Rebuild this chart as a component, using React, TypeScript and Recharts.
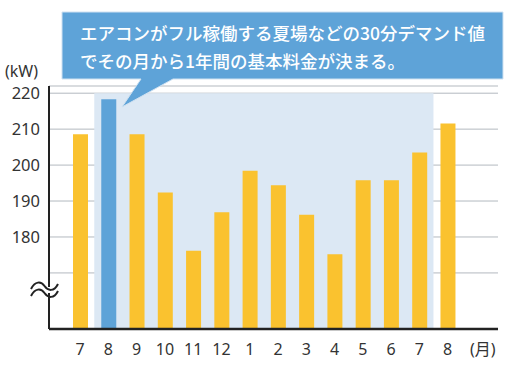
import { Bar, BarChart, Cell, CartesianGrid, ReferenceArea, XAxis, YAxis } from 'recharts';

const YELLOW = '#fac22f';
const BLUE = '#5ea3d8';
const SHADE = '#dce8f4';
const INK = '#333333';
const FONT = "'Noto Sans', 'Noto Sans CJK JP', sans-serif";

// 月ラベル（先頭の7月〜翌年8月）と最後の単位ラベル
const months = ['7', '8', '9', '10', '11', '12', '1', '2', '3', '4', '5', '6', '7', '8'];
const unitLabel = '(月)';
// 各月の30分デマンド値 (kW)
const demandKw = [208.6, 218.3, 208.6, 192.4, 176.2, 186.9, 198.4, 194.4, 186.2, 175.2, 195.8, 195.8, 203.5, 211.6];
// 強調する月（夏のピーク）
const peakIndex = 1;
// 1年間の基本料金が決まる期間（8月〜翌7月）
const shadeFrom = 1;
const shadeTo = 12;
const yTicks = [170, 180, 190, 200, 210, 220];
const yMin = 154.4;
const yMax = 222;
const calloutLines = ['エアコンがフル稼働する夏場などの30分デマンド値', 'でその月から1年間の基本料金が決まる。'];

const data = [
  ...months.map((m, i) => ({ key: `m${i}`, label: m, value: demandKw[i] })),
  { key: 'unit', label: unitLabel, value: null as number | null },
];

function MonthTick(props: any) {
  const { x, y, payload } = props;
  const row = data.find((d) => d.key === payload.value);
  const label = row ? row.label : '';
  const isUnit = label === unitLabel;
  return (
    <text
      x={x + (isUnit ? 7 : 0)}
      y={y}
      dy="0.71em"
      textAnchor="middle"
      fill={INK}
      fontSize={16}
      fontFamily={FONT}
    >
      {label}
    </text>
  );
}

export default function App() {
  return (
    <div style={{ position: 'absolute', left: 0, top: 0, width: 513, height: 371, background: '#fff', fontFamily: FONT }}>
      <BarChart width={513} height={371} data={data} margin={{ top: 86, right: 15, left: 0, bottom: 10 }}>
        <ReferenceArea
          x1={`m${shadeFrom}`}
          x2={`m${shadeTo}`}
          y1={yMin}
          y2={220}
          fill={SHADE}
          fillOpacity={1}
          stroke="none"
        />
        <CartesianGrid vertical={false} stroke="#b3b9bf" strokeWidth={1} />
        <XAxis
          dataKey="key"
          tick={<MonthTick />}
          tickLine={false}
          tickMargin={9}
          interval={0}
          height={32}
          padding={{ left: 17, right: 8 }}
          axisLine={{ stroke: '#222', strokeWidth: 2.5 }}
        />
        <YAxis
          type="number"
          domain={[yMin, yMax]}
          ticks={yTicks}
          allowDataOverflow
          tickFormatter={(v: number) => (v === 170 ? '' : String(v))}
          tick={{ fontSize: 16.5, fill: INK, fontFamily: FONT }}
          tickLine={false}
          tickMargin={3}
          width={49}
          axisLine={{ stroke: '#222', strokeWidth: 2 }}
        />
        <Bar dataKey="value" barSize={15} fill={YELLOW} isAnimationActive={false}>
          {data.map((d, i) => (
            <Cell key={d.key} fill={i === peakIndex ? BLUE : YELLOW} />
          ))}
        </Bar>
      </BarChart>

      <svg width={513} height={371} style={{ position: 'absolute', left: 0, top: 0, pointerEvents: 'none' }}>
        <text x={5} y={77} fontSize={16} fill={INK} fontFamily={FONT}>
          (kW)
        </text>

        {/* 吹き出し */}
        <path
          d="M62 12 H503 V79 H173 L122 107 L141 79 H62 Z"
          fill={BLUE}
          stroke="#cfe1f1"
          strokeWidth={1}
        />
        {calloutLines.map((line, i) => (
          <text
            key={i}
            x={80}
            y={40 + i * 28}
            fontSize={17.5}
            fontWeight={500}
            fill="#fff"
            fontFamily="'Noto Sans CJK JP', sans-serif"
          >
            {line}
          </text>
        ))}

        {/* 軸の省略記号 */}
        <rect x={44} y={287} width={9} height={6} fill="#fff" />
        <path d="M31 289 C35 281, 41 281, 44.5 286 S54 292, 58 284" fill="none" stroke="#222" strokeWidth={2} />
        <path d="M31 296 C35 288, 41 288, 44.5 293 S54 299, 58 291" fill="none" stroke="#222" strokeWidth={2} />
      </svg>
    </div>
  );
}
